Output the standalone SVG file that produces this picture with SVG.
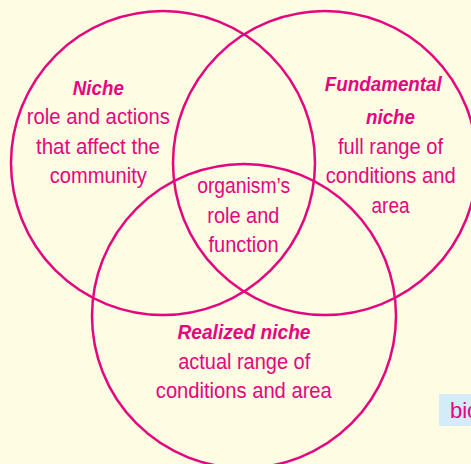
<svg xmlns="http://www.w3.org/2000/svg" width="471" height="464" viewBox="0 0 471 464">
<style>
.c{fill:none;stroke:#e4067f;stroke-width:2.5}
.t{fill:#e4067f;font-family:"Liberation Sans",Arial,sans-serif;font-size:22px;text-anchor:middle}
.b{font-weight:bold;font-style:italic;font-size:21px}
</style>
<rect width="471" height="464" fill="#fefce3"/>
<g id="tag"><rect x="439" y="394" width="40" height="32" fill="#d3ecf8"/><text class="t" x="450" y="418" style="text-anchor:start">bio</text></g>
<g id="connectors"></g>
<g id="niche"><circle class="c" cx="163" cy="163" r="152"/>
<text class="t b" x="98.3" y="95" textLength="51" lengthAdjust="spacingAndGlyphs">Niche</text>
<text class="t" x="98.3" y="124" textLength="143" lengthAdjust="spacingAndGlyphs">role and actions</text>
<text class="t" x="98" y="154" textLength="124" lengthAdjust="spacingAndGlyphs">that affect the</text>
<text class="t" x="98.3" y="183" textLength="97" lengthAdjust="spacingAndGlyphs">community</text></g>
<g id="fundamental"><circle class="c" cx="325" cy="163" r="152"/>
<text class="t b" x="383.3" y="91" textLength="117" lengthAdjust="spacingAndGlyphs">Fundamental</text>
<text class="t b" x="390.5" y="124" textLength="49" lengthAdjust="spacingAndGlyphs">niche</text>
<text class="t" x="390.5" y="154" textLength="105" lengthAdjust="spacingAndGlyphs">full range of</text>
<text class="t" x="390.7" y="183" textLength="130" lengthAdjust="spacingAndGlyphs">conditions and</text>
<text class="t" x="390.5" y="213" textLength="38" lengthAdjust="spacingAndGlyphs">area</text></g>
<g id="realized"><circle class="c" cx="244" cy="316" r="152"/>
<text class="t b" x="244" y="339" textLength="133" lengthAdjust="spacingAndGlyphs">Realized niche</text>
<text class="t" x="244.2" y="369" textLength="132" lengthAdjust="spacingAndGlyphs">actual range of</text>
<text class="t" x="243.8" y="398" textLength="176" lengthAdjust="spacingAndGlyphs">conditions and area</text></g>
<g id="center">
<text class="t" x="243.7" y="193" textLength="93" lengthAdjust="spacingAndGlyphs">organism’s</text>
<text class="t" x="243.3" y="223" textLength="72" lengthAdjust="spacingAndGlyphs">role and</text>
<text class="t" x="243.5" y="252" textLength="70" lengthAdjust="spacingAndGlyphs">function</text></g>
</svg>
